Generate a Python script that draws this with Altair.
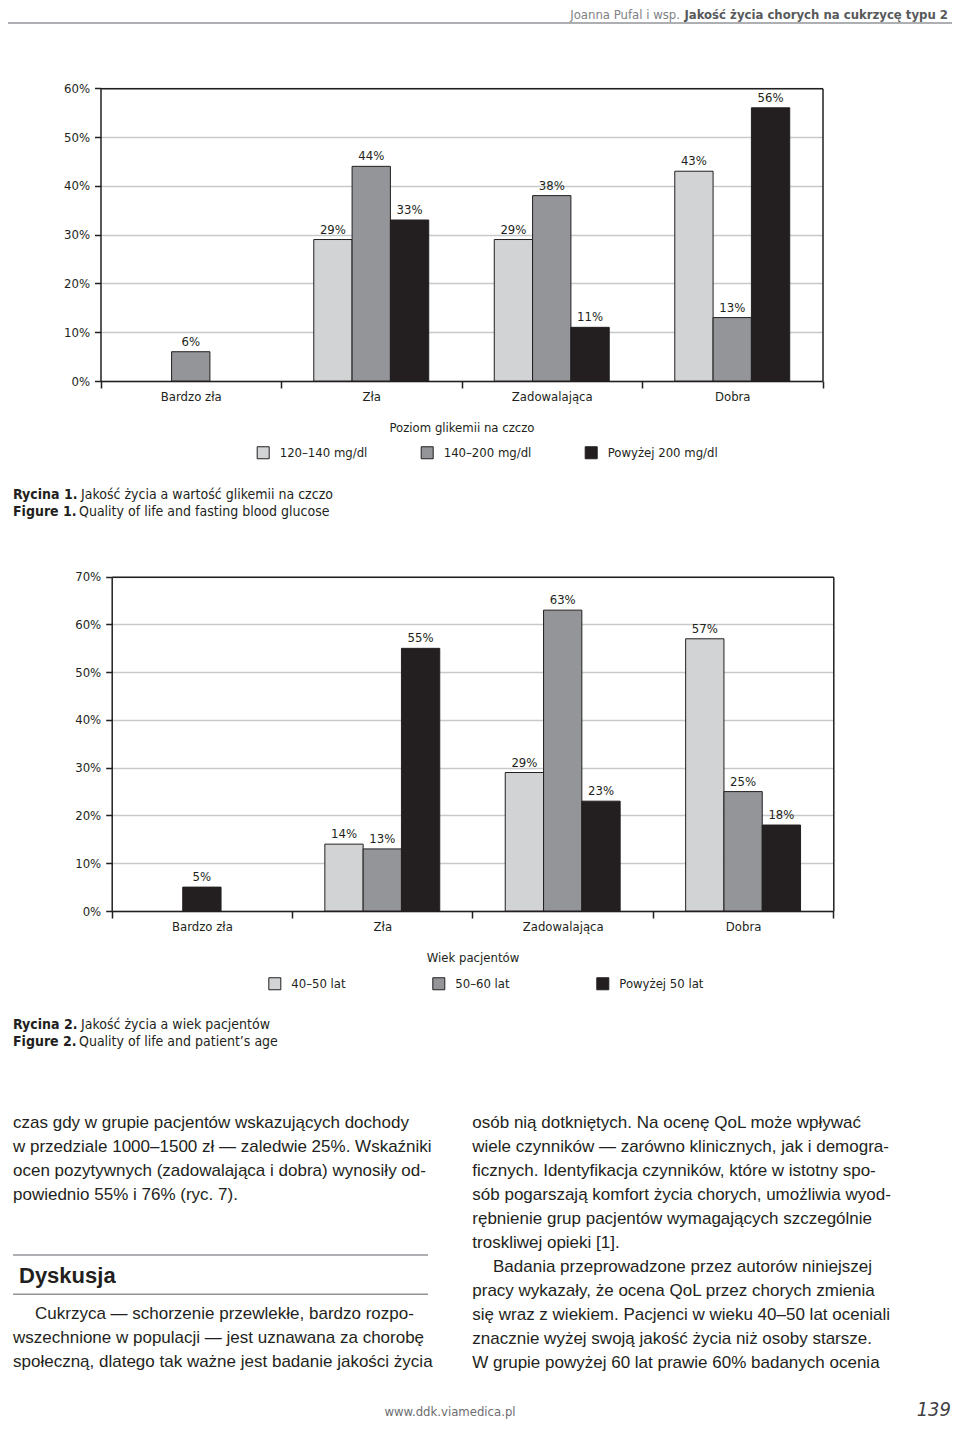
import altair as alt
import pandas as pd

# ---------------- data ----------------
categories = ["Bardzo zła", "Zła", "Zadowalająca", "Dobra"]

glu_series = ["120–140 mg/dl", "140–200 mg/dl", "Powyżej 200 mg/dl"]
glu_120_140 = [0, 29, 29, 43]
glu_140_200 = [6, 44, 38, 13]
glu_200_plus = [0, 33, 11, 56]
glu_ticks = [0, 10, 20, 30, 40, 50, 60]

age_series = ["40–50 lat", "50–60 lat", "Powyżej 50 lat"]
age_40_50 = [0, 14, 29, 57]
age_50_60 = [0, 13, 63, 25]
age_50_plus = [5, 55, 23, 18]
age_ticks = [0, 10, 20, 30, 40, 50, 60, 70]

# ---------------- style ----------------
W, H = 944, 1415
FONT = "DejaVu Sans Condensed, Liberation Sans Narrow, Roboto, sans-serif"
BODY = "Liberation Sans, Arial, Helvetica, sans-serif"
DARK = "#231f20"
GRID = "#c8c9cb"
COLORS = ["#d1d3d4", "#939598", "#231f20"]
FS = 13


def build(series, cols):
    rows = []
    for ci, cat in enumerate(categories):
        vals = [c[ci] for c in cols]
        nz = [i for i, v in enumerate(vals) if v > 0]
        for si in nz:
            slot = 1 if len(nz) == 1 else si
            rows.append(dict(cat=cat, series=series[si], slot=slot,
                             value=vals[si], label=f"{vals[si]}%"))
    return pd.DataFrame(rows)


def bar_block(df, series, ymax, ticks, xr, yr, title, lx, ly, colpad):
    xscale = alt.Scale(domain=categories, range=xr, paddingInner=0, paddingOuter=0)
    yscale = alt.Scale(domain=[0, ymax], range=yr, nice=False, zero=True)
    oscale = alt.Scale(domain=[0, 1, 2], paddingInner=0, paddingOuter=0.855)
    cscale = alt.Scale(domain=series, range=COLORS)
    base = alt.Chart(df)
    bars = base.mark_bar(stroke=DARK, strokeWidth=1).encode(
        x=alt.X("cat:N", scale=xscale, sort=categories,
                axis=alt.Axis(orient="bottom", offset=yr[0] - H, title=title,
                              tickBand="extent", tickSize=7, labelPadding=2,
                              labelAngle=0, grid=False,
                              domainColor=DARK, domainWidth=1.5, tickColor=DARK, tickWidth=1.5,
                              labelFont=FONT, labelFontSize=FS, labelColor=DARK,
                              titleFont=FONT, titleFontSize=FS, titleFontWeight="normal",
                              titleColor=DARK, titleY=50, titleBaseline="alphabetic")),
        xOffset=alt.XOffset("slot:O", scale=oscale),
        y=alt.Y("value:Q", scale=yscale,
                axis=alt.Axis(orient="left", offset=-xr[0], values=ticks, title=None,
                              labelExpr="datum.value + '%'", tickSize=6, labelPadding=5,
                              grid=True, gridColor=GRID, gridWidth=1.5,
                              domainColor=DARK, domainWidth=1.5, tickColor=DARK, tickWidth=1.5,
                              labelFont=FONT, labelFontSize=FS, labelColor=DARK)),
        color=alt.Color("series:N", scale=cscale, sort=series,
                        legend=alt.Legend(title=None, orient="none", legendX=lx, legendY=ly,
                                          direction="horizontal", columns=3,
                                          columnPadding=colpad, padding=0,
                                          symbolType="square", symbolSize=144,
                                          symbolStrokeColor=DARK, symbolStrokeWidth=1,
                                          labelOffset=10, labelFont=FONT,
                                          labelFontSize=FS, labelColor=DARK)),
    )
    labels = base.mark_text(font=FONT, fontSize=FS, color=DARK, baseline="alphabetic",
                            dy=-6).encode(
        x=alt.X("cat:N", scale=xscale, sort=categories,
                axis=alt.Axis(orient="top", offset=-yr[1], labels=False, ticks=False,
                              title=None, grid=False, domainColor=DARK, domainWidth=1.5)),
        xOffset=alt.XOffset("slot:O", scale=oscale),
        y=alt.Y("value:Q", scale=yscale,
                axis=alt.Axis(orient="right", offset=xr[1] - W, labels=False, ticks=False,
                              title=None, grid=False, domainColor=DARK, domainWidth=1.5)),
        text="label:N",
    )
    return alt.layer(bars, labels).resolve_axis(x="independent", y="independent")


def text(s, x, y, size, font=FONT, weight="normal", style="normal", align="left",
         color=DARK, line_height=None):
    kw = dict(font=font, fontSize=size, fontWeight=weight, fontStyle=style, align=align,
              baseline="alphabetic", color=color)
    if line_height:
        kw.update(lineBreak="\n", lineHeight=line_height)
    return alt.Chart(pd.DataFrame({"t": [s]})).mark_text(**kw).encode(
        x=alt.value(x), y=alt.value(y), text="t:N")


def hrule(x1, x2, y, color="#939598", width=1.5):
    return alt.Chart(pd.DataFrame({"k": [0]})).mark_rule(color=color, strokeWidth=width).encode(
        x=alt.value(x1), x2=alt.value(x2), y=alt.value(y))


glu_df = build(glu_series, [glu_120_140, glu_140_200, glu_200_plus])
age_df = build(age_series, [age_40_50, age_50_60, age_50_plus])

chart1 = bar_block(glu_df, glu_series, 60, glu_ticks, [92.5, 814.5], [373, 80.3],
                   "Poziom glikemii na czczo", 248.7, 438, 51)
chart2 = bar_block(age_df, age_series, 70, age_ticks, [103.7, 825.3], [903, 568.7],
                   "Wiek pacjentów", 260.3, 969, 84)

left_par1 = "\n".join([
    "czas gdy w grupie pacjentów wskazujących dochody",
    "w przedziale 1000–1500 zł — zaledwie 25%. Wskaźniki",
    "ocen pozytywnych (zadowalająca i dobra) wynosiły od-",
    "powiednio 55% i 76% (ryc. 7).",
])
left_par2_first = "Cukrzyca — schorzenie przewlekłe, bardzo rozpo-"
left_par2_rest = "\n".join([
    "wszechnione w populacji — jest uznawana za chorobę",
    "społeczną, dlatego tak ważne jest badanie jakości życia",
])
right_par1 = "\n".join([
    "osób nią dotkniętych. Na ocenę QoL może wpływać",
    "wiele czynników — zarówno klinicznych, jak i demogra-",
    "ficznych. Identyfikacja czynników, które w istotny spo-",
    "sób pogarszają komfort życia chorych, umożliwia wyod-",
    "rębnienie grup pacjentów wymagających szczególnie",
    "troskliwej opieki [1].",
])
right_par2_first = "Badania przeprowadzone przez autorów niniejszej"
right_par2_rest = "\n".join([
    "pracy wykazały, że ocena QoL przez chorych zmienia",
    "się wraz z wiekiem. Pacjenci w wieku 40–50 lat oceniali",
    "znacznie wyżej swoją jakość życia niż osoby starsze.",
    "W grupie powyżej 60 lat prawie 60% badanych ocenia",
])

layers = [
    # header
    text("Jakość życia chorych na cukrzycę typu 2", 940, 11, 13, weight="bold",
         align="right", color="#58595b"),
    text("Joanna Pufal i wsp.", 672, 11, 13, align="right", color="#808285"),
    hrule(0, W, 15, color="#939598", width=1.5),
    # charts
    chart1,
    chart2,
    # captions
    text("Rycina 1.", 5, 491.3, 14, weight="bold"),
    text("Jakość życia a wartość glikemii na czczo", 73, 491.3, 14),
    text("Figure 1.", 5, 508, 14, weight="bold"),
    text("Quality of life and fasting blood glucose", 71, 508, 14),
    text("Rycina 2.", 5, 1020.5, 14, weight="bold"),
    text("Jakość życia a wiek pacjentów", 73, 1020.5, 14),
    text("Figure 2.", 5, 1038, 14, weight="bold"),
    text("Quality of life and patient’s age", 71, 1038, 14),
    # body text
    text(left_par1, 5, 1120, 17, font=BODY, line_height=24),
    hrule(5, 420, 1247),
    text("Dyskusja", 11, 1275, 22, font=BODY, weight="bold"),
    hrule(5, 420, 1286.3),
    text(left_par2_first, 27, 1311, 17, font=BODY),
    text(left_par2_rest, 5, 1335, 17, font=BODY, line_height=24),
    text(right_par1, 464.3, 1120, 17, font=BODY, line_height=24),
    text(right_par2_first, 485, 1264, 17, font=BODY),
    text(right_par2_rest, 464.3, 1288, 17, font=BODY, line_height=24),
    # footer
    text("www.ddk.viamedica.pl", 442, 1408, 13, align="center", color="#6d6e71"),
    text("139", 943, 1408, 20, style="italic", align="right", color="#414042"),
]

chart = alt.layer(*layers).resolve_scale(
    x="independent", y="independent", color="independent", xOffset="independent"
).properties(
    width=W, height=H, padding=0,
    autosize=alt.AutoSizeParams(type="none"),
).configure_view(strokeWidth=0)

chart.save("out.html", embed_options={"renderer": "svg", "actions": False})
